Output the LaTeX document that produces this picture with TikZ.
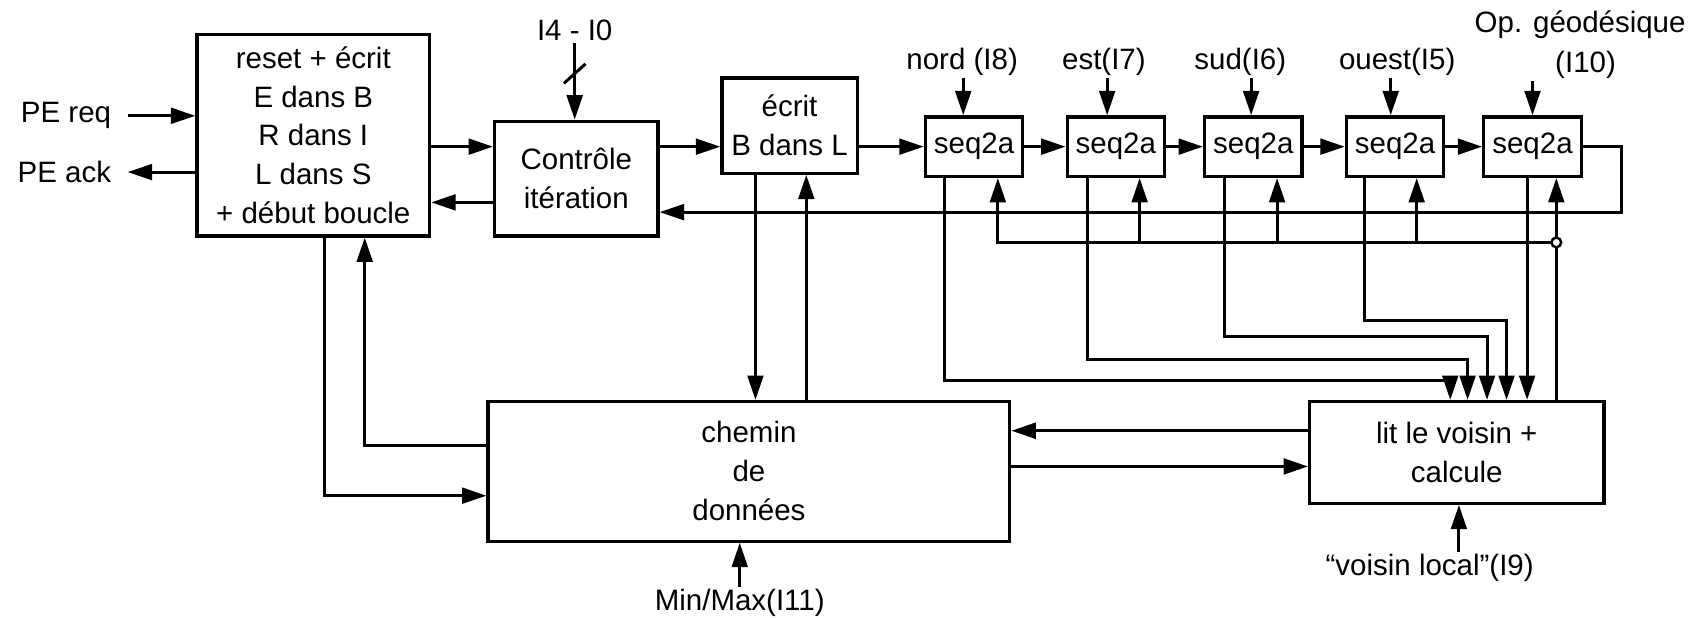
\documentclass[tikz,border=0pt]{standalone}
\usepackage{fontspec}
\setmainfont{Liberation Sans}
\usepackage{tikz}
\usetikzlibrary{arrows.meta, positioning}
\tikzstyle{block} = [rectangle, draw=black, line width=0.6mm, text centered, align=center, inner sep=0pt]
\tikzstyle{seqbox} = [block, minimum width=18mm, minimum height=11mm]
\tikzstyle{sig} = [inner sep=1pt]
\tikzstyle{wire} = [line width=0.55mm]
\tikzstyle{arrow} = [wire, -{Triangle[length=4.5mm,width=2.9mm]}]

\begin{document}
\begin{tikzpicture}[x=0.2mm, y=-0.2mm, font=\fontsize{15.5}{20.5}\selectfont]
\useasboundingbox (0,0) rectangle (1568,571);

% Nodes
\node (init) [block, minimum width=43mm, minimum height=37.2mm] at (289.5,125) {reset + écrit\\E dans B\\R dans I\\L dans S\\+ début boucle};
\node (ctrl) [block, minimum width=30.2mm, minimum height=21.2mm] at (532.5,165) {Contrôle\\itération};
\node (ecrit) [block, minimum width=25mm, minimum height=17.6mm] at (729.5,116) {écrit\\B dans L};
\node (s1) [seqbox] at (900,135.5) {seq2a};
\node (s2) [seqbox] at (1031,135.5) {seq2a};
\node (s3) [seqbox] at (1158,135.5) {seq2a};
\node (s4) [seqbox] at (1289,135.5) {seq2a};
\node (s5) [seqbox] at (1416,135.5) {seq2a};
\node (chemin) [block, minimum width=96.4mm, minimum height=25.8mm] at (692,435.5) {chemin\\de\\données};
\node (voisin) [block, minimum width=54.4mm, minimum height=18.8mm] at (1346,418) {lit le voisin +\\calcule};

% Signals
\node (req) [sig, inner xsep=3mm, anchor=east] at (118,107) {PE req};
\node (ack) [sig, inner xsep=3mm, anchor=east] at (118,159) {PE ack};
\node (io) [sig] at (531,28) {I4 - I0};
\node (nord) [sig] at (889,57) {nord (I8)};
\node (est) [sig] at (1020,57) {est(I7)};
\node (sud) [sig] at (1146,57) {sud(I6)};
\node (ouest) [sig] at (1291,57) {ouest(I5)};
\node (geo) [sig] at (1460,23) {Op. géodésique};
\node (geoi) [sig] at (1465,60) {(I10)};
\node (mm) [sig] at (683.5,557) {Min/Max(I11)};
\node (vl) [sig] at (1321,525) {“voisin local”(I9)};

% Routing points
\coordinate (row) at (0,135.5);
\coordinate (back) at (0,187);
\coordinate (ret) at (1498,196);
\coordinate (dn) at (698,0);
\coordinate (up) at (745,0);
\coordinate (lo) at (300,458);
\coordinate (li) at (337,412);
\coordinate (ya) at (0,398);
\coordinate (yb) at (0,431);
\coordinate (vi) at (1348,0);
\coordinate (jn) at (1438,224);

% Arrows
\draw [arrow] (req.east) -- (init.west |- req.east);
\draw [arrow] (init.west |- ack.east) -- (ack.east);
\draw [arrow] (init.east |- row) -- (ctrl.west |- row);
\draw [arrow] (ctrl.west |- back) -- (init.east |- back);
\draw [arrow] (io.south) -- (io.south |- ctrl.north) coordinate[pos=0.4] (tick);
\draw [wire] ([shift={(-10,9)}]tick) -- ([shift={(10,-9)}]tick);
\draw [arrow] (ctrl.east |- row) -- (ecrit.west |- row);
\draw [arrow] (ecrit.east |- row) -- (s1.west);
\draw [arrow] (s1) -- (s2);
\draw [arrow] (s2) -- (s3);
\draw [arrow] (s3) -- (s4);
\draw [arrow] (s4) -- (s5);
\draw [arrow] (s5.east) -- (s5.east -| ret) -- (ret) -- (ctrl.east |- ret);
\draw [arrow] (ecrit.south -| dn) -- (chemin.north -| dn);
\draw [arrow] (chemin.north -| up) -- (ecrit.south -| up);
\draw [arrow] (init.south -| lo) -- (lo) -- (chemin.west |- lo);
\draw [arrow] (chemin.west |- li) -- (li) -- (init.south -| li);
\draw [arrow] (voisin.west |- ya) -- (chemin.east |- ya);
\draw [arrow] (chemin.east |- yb) -- (voisin.west |- yb);
\draw [arrow] (mm.north) -- (chemin.south -| mm.north);
\draw [arrow] (vl.north -| vi) -- (voisin.south -| vi);

% inputs of the seq2a chain
\foreach \lbl/\s/\x in {nord/s1/890, est/s2/1023, sud/s3/1156, ouest/s4/1285, geoi/s5/1416} {
  \coordinate (c\s) at (\x,0);
  \draw [arrow] (\lbl.south -| c\s) -- (\s.north -| c\s);
}

% outputs to voisin
\foreach \i/\xo/\yo/\xa in {1/873/352/1340, 2/1005/332/1356, 3/1131/311/1374, 4/1261/296/1392} {
  \coordinate (k\i) at (\xo,\yo);
  \coordinate (m\i) at (\xa,\yo);
  \draw [arrow] (s\i.south -| k\i) -- (k\i) -- (m\i) -- (voisin.north -| m\i);
}
\coordinate (k5) at (1411,0);
\draw [arrow] (s5.south -| k5) -- (voisin.north -| k5);

% return bus
\foreach \i/\x in {1/922, 2/1053, 3/1180, 4/1309} {
  \coordinate (b\i) at (\x,224);
}
\draw [arrow] (jn) -- (b1) -- (s1.south -| b1);
\draw [arrow] (b2) -- (s2.south -| b2);
\draw [arrow] (b3) -- (s3.south -| b3);
\draw [arrow] (b4) -- (s4.south -| b4);
\draw [arrow] (voisin.north -| jn) -- (s5.south -| jn);
\draw [line width=0.45mm, fill=white] (jn) circle (0.9mm);

\end{tikzpicture}
\end{document}
